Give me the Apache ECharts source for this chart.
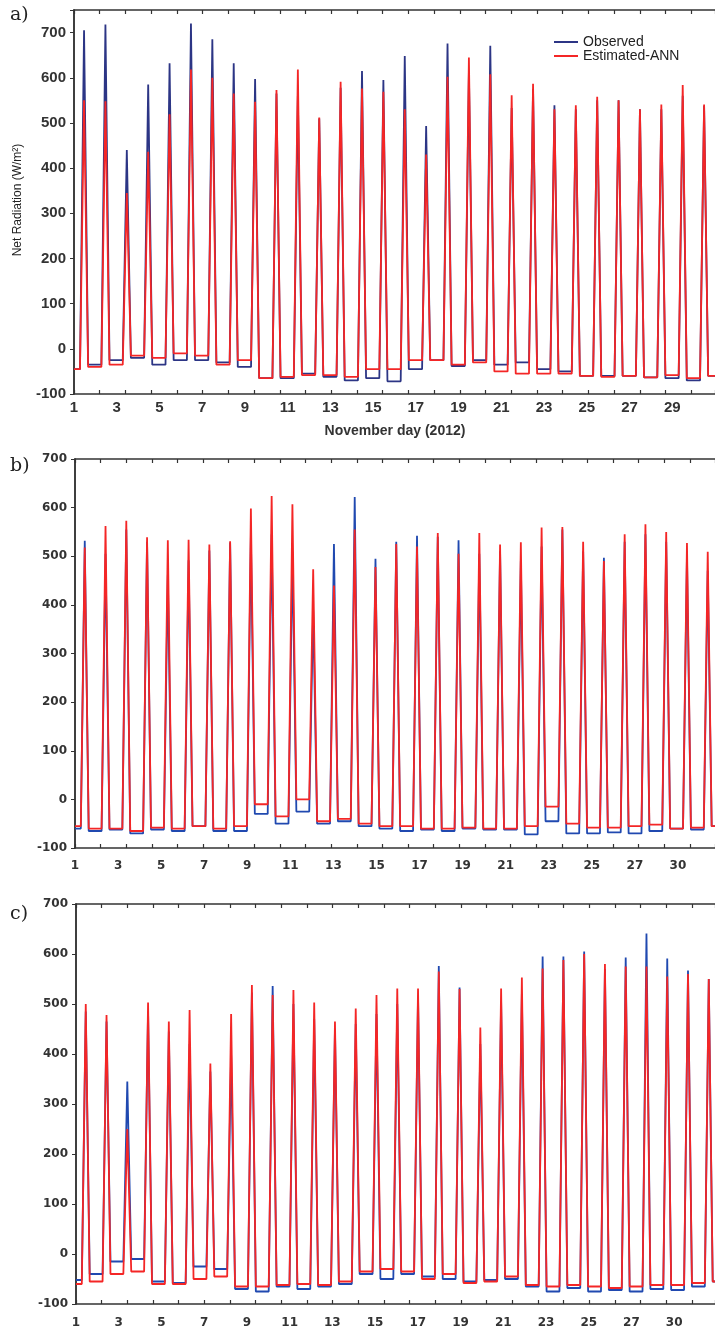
<!DOCTYPE html>
<html>
<head>
<meta charset="utf-8">
<script src="https://cdn.jsdelivr.net/npm/echarts@6/dist/echarts.min.js"></script>
<style>
  html, body { margin: 0; padding: 0; background: #fff; }
  #chart { width: 715px; height: 1329px; }
</style>
</head>
<body>
<div id="chart"></div>
<script>
  // tick labels
  const ticksA = ['1', '3', '5', '7', '9', '11', '13', '15', '17', '19', '21', '23', '25', '27', '29']
  const ticksBC = ['1', '3', '5', '7', '9', '11', '13', '15', '17', '19', '21', '23', '25', '27', '30']

  // daily maxima (W/m2)
  const peakObsA = [705, 718, 440, 585, 632, 720, 685, 632, 597, 565, 560, 510, 578, 615, 595, 648, 493, 676, 613, 671, 533, 575, 539, 530, 550, 550, 530, 530, 560, 538]
  const peakEstA = [550, 548, 345, 436, 519, 618, 600, 565, 547, 573, 618, 512, 591, 576, 569, 530, 430, 602, 645, 608, 561, 587, 530, 539, 558, 550, 530, 541, 584, 541]
  // night levels: before day 1, then after each day
  const nightObsA = [-45, -35, -25, -20, -35, -25, -25, -30, -40, -65, -65, -55, -62, -70, -65, -72, -45, -25, -38, -25, -35, -30, -45, -50, -60, -60, -60, -63, -65, -70, -60]
  const nightEstA = [-45, -40, -35, -15, -20, -10, -15, -35, -25, -65, -62, -58, -58, -62, -45, -45, -25, -25, -35, -30, -50, -55, -55, -55, -60, -62, -60, -63, -58, -65, -60]

  const peakObsB = [532, 505, 555, 530, 461, 492, 512, 528, 540, 545, 509, 390, 525, 622, 495, 530, 542, 540, 533, 505, 510, 490, 520, 555, 510, 497, 530, 545, 530, 500, 470]
  const peakEstB = [518, 562, 573, 539, 533, 534, 524, 531, 598, 624, 607, 473, 440, 555, 478, 525, 520, 548, 505, 548, 524, 529, 559, 560, 530, 490, 545, 566, 550, 527, 509]
  const nightObsB = [-60, -65, -62, -70, -62, -65, -55, -65, -65, -30, -50, -25, -50, -45, -55, -60, -65, -62, -65, -60, -62, -62, -72, -45, -70, -70, -68, -70, -65, -60, -62, -55]
  const nightEstB = [-55, -60, -60, -65, -58, -60, -55, -60, -55, -10, -35, 0, -45, -40, -50, -55, -55, -60, -60, -58, -60, -60, -55, -15, -50, -58, -58, -55, -52, -60, -58, -55]

  const peakObsC = [485, 465, 345, 485, 445, 420, 365, 400, 523, 536, 500, 470, 450, 460, 480, 500, 515, 576, 533, 420, 505, 520, 595, 595, 605, 570, 593, 641, 591, 567, 550]
  const peakEstC = [500, 478, 250, 503, 465, 488, 381, 480, 538, 518, 528, 503, 465, 491, 518, 531, 531, 565, 530, 453, 531, 553, 571, 588, 600, 580, 575, 575, 555, 560, 550]
  const nightObsC = [-52, -40, -15, -10, -55, -58, -25, -30, -70, -75, -65, -70, -65, -60, -40, -50, -40, -45, -50, -55, -52, -50, -65, -75, -68, -75, -72, -75, -70, -72, -65, -55]
  const nightEstC = [-60, -55, -40, -35, -60, -60, -50, -45, -65, -65, -62, -60, -62, -55, -35, -30, -35, -50, -40, -58, -55, -45, -62, -65, -62, -65, -68, -65, -62, -62, -58, -55]

  // time of day (fraction) of sunrise, noon, sunset
  const RISE = 0.28, NOON = 0.47, SET = 0.66

  function dayCurve(peaks, nights) {
    let pts = [[1, nights[0]]]
    peaks.forEach(function (p, i) {
      let d = i + 1
      pts.push([d + RISE, nights[i]], [d + NOON, p], [d + SET, nights[i + 1]])
    })
    pts.push([peaks.length + 1, nights[peaks.length]])
    return pts
  }

  const panels = [
    {tag: 'a)', tagTop: 6, left: 74, top: 10, height: 384, yMax: 750, xMax: 30.98, labelMax: 30.0, tickMax: 24.92,
      ticks: ticksA, font: 'Liberation Sans', fs: 15, lm: 6, blue: '#2c3585',
      obs: dayCurve(peakObsA, nightObsA), est: dayCurve(peakEstA, nightEstA)},
    {tag: 'b)', tagTop: 457, left: 75, top: 459, height: 389, yMax: 700, xMax: 31.82, labelMax: 29.72, tickMax: 24.98,
      ticks: ticksBC, font: 'DejaVu Sans', fs: 12, lm: 12, blue: '#2049b0',
      obs: dayCurve(peakObsB, nightObsB), est: dayCurve(peakEstB, nightEstB)},
    {tag: 'c)', tagTop: 905, left: 76, top: 904, height: 400, yMax: 700, xMax: 31.77, labelMax: 29.91, tickMax: 24.9,
      ticks: ticksBC, font: 'DejaVu Sans', fs: 12, lm: 13, blue: '#2049b0',
      obs: dayCurve(peakObsC, nightObsC), est: dayCurve(peakEstC, nightEstC)},
  ]

  const axisColor = '#333'
  let grid = [], xAxis = [], yAxis = [], series = [], graphic = []

  panels.forEach(function (p, g) {
    grid.push({left: p.left, top: p.top, right: -2, height: p.height})
    let lab = {fontFamily: p.font, fontSize: p.fs, fontWeight: 'bold', color: '#333'}
    // data axis
    xAxis.push({type: 'value', gridIndex: g, min: 1, max: p.xMax, show: false})
    // label axis
    xAxis.push({
      type: 'value', gridIndex: g, position: 'bottom', min: 0, max: p.labelMax, interval: 2,
      axisLine: {show: false}, axisTick: {show: false}, splitLine: {show: false},
      axisLabel: Object.assign({
        margin: p.lm, showMaxLabel: false,
        formatter: function (v) { return (v % 2 === 0 && p.ticks[v / 2]) ? p.ticks[v / 2] : '' }
      }, lab)
    })
    // tick axes, bottom and top
    ;['bottom', 'top'].forEach(function (pos) {
      xAxis.push({
        type: 'value', gridIndex: g, position: pos, min: 0, max: p.tickMax, interval: 1,
        axisLine: {show: true, onZero: false, lineStyle: {color: axisColor, width: 1.5}},
        axisTick: {show: true, inside: true, length: 4, lineStyle: {color: axisColor, width: 1.2}},
        axisLabel: {show: false}, splitLine: {show: false}
      })
    })
    yAxis.push({
      type: 'value', gridIndex: g, position: 'left', min: -100, max: p.yMax, interval: 100,
      axisLine: {show: true, lineStyle: {color: axisColor, width: 1.5}},
      axisTick: {show: false}, splitLine: {show: false},
      axisLabel: Object.assign({margin: 8, formatter: function (v) { return v > 700 ? '' : v }}, lab)
    })
    yAxis.push({
      type: 'value', gridIndex: g, position: 'right', min: -100, max: p.yMax, interval: 100,
      axisLine: {show: true, lineStyle: {color: axisColor, width: 1.5}},
      axisTick: {show: true, inside: true, length: 4, lineStyle: {color: axisColor}},
      axisLabel: {show: false}, splitLine: {show: false}
    })
    series.push({
      name: 'Observed', type: 'line', xAxisIndex: g * 4, yAxisIndex: g * 2,
      data: p.obs, showSymbol: false, lineStyle: {color: p.blue, width: 1.8}, itemStyle: {color: p.blue}
    })
    series.push({
      name: 'Estimated-ANN', type: 'line', xAxisIndex: g * 4, yAxisIndex: g * 2,
      data: p.est, showSymbol: false, lineStyle: {color: '#f42626', width: 1.8}, itemStyle: {color: '#f42626'}
    })
    graphic.push({
      type: 'text', left: 10, top: p.tagTop,
      style: {text: p.tag, font: '19px "DejaVu Serif"', fill: '#222'}
    })
  })

  graphic.push({
    type: 'text', x: 18, y: 200, rotation: Math.PI / 2,
    style: {text: 'Net Radiation (W/m²)', font: '12px "Liberation Sans"', fill: '#222',
      textAlign: 'center', textVerticalAlign: 'middle'}
  })
  graphic.push({
    type: 'text', x: 395, y: 431,
    style: {text: 'November day (2012)', font: 'bold 14px "Liberation Sans"', fill: '#333',
      textAlign: 'center', textVerticalAlign: 'middle'}
  })

  let option = {
    animation: false,
    backgroundColor: '#fff',
    grid: grid,
    xAxis: xAxis,
    yAxis: yAxis,
    legend: {
      data: ['Observed', 'Estimated-ANN'], orient: 'vertical', left: 554, top: 35, padding: 0,
      itemGap: 0, itemWidth: 24, itemHeight: 2, icon: 'rect',
      textStyle: {fontFamily: 'Liberation Sans', fontSize: 14, color: '#222'}
    },
    graphic: graphic,
    series: series
  }

  let myChart = echarts.init(document.getElementById('chart'))
  myChart.setOption(option)
</script>
</body>
</html>
